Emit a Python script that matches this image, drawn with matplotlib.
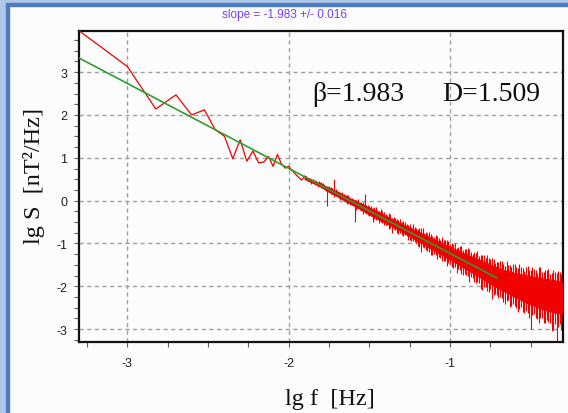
import numpy as np
import matplotlib
matplotlib.use("Agg")
import matplotlib.pyplot as plt
from matplotlib.patches import Rectangle

# ----------------------------
# Data
# ----------------------------
# low-frequency part, single spectral lines
lgf_low = [-3.301, -3.000, -2.824, -2.699, -2.602, -2.523, -2.456, -2.398,
           -2.347, -2.301, -2.260, -2.222, -2.187, -2.155, -2.125, -2.097,
           -2.070, -2.046, -2.022, -2.000, -1.979, -1.959, -1.939, -1.921]
lgS_low = [3.97, 3.13, 2.14, 2.47, 2.00, 2.12, 1.66, 1.50,
           0.98, 1.42, 0.92, 1.16, 0.88, 0.90, 1.03, 0.80,
           1.08, 0.86, 0.76, 0.80, 0.70, 0.62, 0.55, 0.48]

# dense part: core of the noisy band (upper / lower edge)
lgf_band = [-1.90, -1.88, -1.86, -1.84, -1.82, -1.80, -1.78, -1.76, -1.74, -1.72,
            -1.70, -1.68, -1.66, -1.64, -1.62, -1.60, -1.58, -1.56, -1.54, -1.52,
            -1.50, -1.48, -1.46, -1.44, -1.42, -1.40, -1.38, -1.36, -1.34, -1.32,
            -1.30, -1.28, -1.26, -1.24, -1.22, -1.20, -1.18, -1.16, -1.14, -1.12,
            -1.10, -1.08, -1.06, -1.04, -1.02, -1.00, -0.98, -0.96, -0.94, -0.92,
            -0.90, -0.88, -0.86, -0.84, -0.82, -0.80, -0.78, -0.76, -0.74, -0.72,
            -0.70, -0.68, -0.66, -0.64, -0.62, -0.60, -0.58, -0.56, -0.54, -0.52,
            -0.50, -0.48, -0.46, -0.44, -0.42, -0.40, -0.38, -0.36, -0.34, -0.32,
            -0.30]
lgS_hi = [0.57, 0.52, 0.49, 0.45, 0.42, 0.40, 0.35, 0.31, 0.28, 0.24,
          0.21, 0.17, 0.13, 0.09, 0.05, 0.01, -0.02, -0.06, -0.09, -0.13,
          -0.17, -0.20, -0.24, -0.27, -0.31, -0.36, -0.40, -0.43, -0.47, -0.51,
          -0.54, -0.58, -0.62, -0.65, -0.69, -0.72, -0.76, -0.80, -0.83, -0.87,
          -0.90, -0.94, -0.98, -1.01, -1.05, -1.08, -1.12, -1.16, -1.19, -1.23,
          -1.25, -1.29, -1.32, -1.35, -1.38, -1.42, -1.45, -1.48, -1.51, -1.55,
          -1.58, -1.61, -1.63, -1.66, -1.67, -1.70, -1.71, -1.73, -1.74, -1.76,
          -1.77, -1.79, -1.80, -1.81, -1.83, -1.84, -1.85, -1.86, -1.88, -1.89,
          -1.90]
lgS_lo = [0.51, 0.46, 0.43, 0.39, 0.36, 0.32, 0.27, 0.22, 0.18, 0.14,
          0.10, 0.06, 0.01, -0.03, -0.07, -0.11, -0.16, -0.19, -0.24, -0.28,
          -0.32, -0.37, -0.40, -0.45, -0.49, -0.52, -0.56, -0.60, -0.64, -0.68,
          -0.73, -0.77, -0.81, -0.86, -0.90, -0.95, -0.99, -1.03, -1.08, -1.12,
          -1.16, -1.21, -1.25, -1.29, -1.34, -1.38, -1.42, -1.47, -1.51, -1.56,
          -1.60, -1.65, -1.69, -1.74, -1.78, -1.83, -1.87, -1.92, -1.96, -2.01,
          -2.05, -2.09, -2.13, -2.17, -2.21, -2.25, -2.29, -2.32, -2.36, -2.40,
          -2.43, -2.46, -2.49, -2.52, -2.55, -2.57, -2.59, -2.61, -2.63, -2.64,
          -2.65]

# spikes poking out of the core, two per band sample (how far above / below)
spike_up_a = [0.00, 0.02, 0.00, 0.03, 0.00, 0.04, 0.00, 0.02, 0.05, 0.27,
              0.02, 0.00, 0.03, 0.05, 0.00, 0.02, 0.04, 0.00, 0.06, 0.03,
              0.05, 0.02, 0.08, 0.03, 0.06, 0.04, 0.10, 0.03, 0.07, 0.05,
              0.04, 0.09, 0.06, 0.03, 0.08, 0.05, 0.11, 0.04, 0.07, 0.10,
              0.06, 0.12, 0.05, 0.09, 0.14, 0.07, 0.10, 0.06, 0.13, 0.08,
              0.11, 0.15, 0.07, 0.12, 0.09, 0.16, 0.10, 0.13, 0.18, 0.09,
              0.14, 0.20, 0.11, 0.16, 0.12, 0.22, 0.14, 0.18, 0.10, 0.24,
              0.15, 0.19, 0.12, 0.26, 0.17, 0.21, 0.13, 0.25, 0.18, 0.22,
              0.16]
spike_dn_a = [0.02, 0.00, 0.03, 0.00, 0.04, 0.02, 0.00, 0.34, 0.03, 0.05,
              0.00, 0.04, 0.02, 0.06, 0.03, 0.00, 0.05, 0.02, 0.07, 0.04,
              0.03, 0.13, 0.05, 0.08, 0.04, 0.06, 0.10, 0.15, 0.05, 0.09,
              0.07, 0.04, 0.11, 0.08, 0.06, 0.12, 0.20, 0.07, 0.10, 0.14,
              0.09, 0.16, 0.08, 0.12, 0.18, 0.10, 0.15, 0.22, 0.11, 0.17,
              0.13, 0.24, 0.12, 0.19, 0.15, 0.26, 0.14, 0.21, 0.33, 0.16,
              0.22, 0.18, 0.28, 0.15, 0.24, 0.20, 0.30, 0.17, 0.26, 0.22,
              0.57, 0.19, 0.28, 0.23, 0.31, 0.21, 0.27, 0.42, 0.64, 0.25,
              0.30]
spike_up_b = [0.01, 0.00, 0.02, 0.00, 0.03, 0.01, 0.00, 0.03, 0.02, 0.04,
              0.00, 0.03, 0.01, 0.04, 0.02, 0.00, 0.05, 0.03, 0.25, 0.02,
              0.04, 0.06, 0.03, 0.07, 0.05, 0.03, 0.08, 0.05, 0.04, 0.09,
              0.06, 0.04, 0.08, 0.10, 0.05, 0.07, 0.12, 0.06, 0.09, 0.05,
              0.10, 0.07, 0.13, 0.08, 0.11, 0.09, 0.14, 0.08, 0.12, 0.10,
              0.15, 0.09, 0.13, 0.17, 0.10, 0.14, 0.19, 0.11, 0.15, 0.12,
              0.18, 0.13, 0.21, 0.15, 0.19, 0.14, 0.23, 0.16, 0.20, 0.13,
              0.22, 0.17, 0.25, 0.14, 0.20, 0.24, 0.16, 0.19, 0.23, 0.18,
              0.15]
spike_dn_b = [0.00, 0.02, 0.01, 0.03, 0.00, 0.02, 0.04, 0.01, 0.03, 0.02,
              0.04, 0.01, 0.05, 0.02, 0.03, 0.40, 0.02, 0.06, 0.03, 0.05,
              0.04, 0.07, 0.03, 0.06, 0.09, 0.05, 0.08, 0.06, 0.11, 0.07,
              0.09, 0.06, 0.12, 0.08, 0.10, 0.14, 0.09, 0.13, 0.11, 0.16,
              0.12, 0.10, 0.15, 0.13, 0.11, 0.18, 0.14, 0.12, 0.20, 0.15,
              0.17, 0.13, 0.21, 0.16, 0.28, 0.18, 0.23, 0.15, 0.25, 0.20,
              0.19, 0.27, 0.22, 0.31, 0.20, 0.25, 0.23, 0.29, 0.21, 0.34,
              0.24, 0.28, 0.36, 0.22, 0.30, 0.26, 0.45, 0.27, 0.32, 0.38,
              0.24]

# linear fit
fit_slope = -1.983
fit_intercept = -3.214
fit_range = [-3.3, -0.71]

title_text = "slope = -1.983 +/- 0.016"
beta_text = "\u03b2=1.983"
dim_text = "D=1.509"

# ----------------------------
# Plot
# ----------------------------
W, H = 568.0, 414.0
fig = plt.figure(figsize=(W / 100, H / 100), dpi=100, facecolor="#fcfcfc")

# window frame (left and top strips)
fig.patches.append(Rectangle((0, 0), 6 / W, 1, transform=fig.transFigure,
                             color="#b2c8ea", zorder=0))
fig.patches.append(Rectangle((6 / W, 0), 3 / W, 1 - 4 / H, transform=fig.transFigure,
                             color="#4c7dc2", zorder=0))
fig.patches.append(Rectangle((0, 1 - 4 / H), 1, 4 / H, transform=fig.transFigure,
                             color="#b2c8ea", zorder=0))
fig.patches.append(Rectangle((6 / W, 1 - 7 / H), 1, 3 / H, transform=fig.transFigure,
                             color="#4c7dc2", zorder=0))

ax = fig.add_axes([79 / W, 1 - 343 / H, 484 / W, 311 / H])
ax.set_facecolor("#fcfcfc")

red = "#f00000"
bx = np.array(lgf_band)
hi = np.array(lgS_hi)
lo = np.array(lgS_lo)

ax.plot(lgf_low + [lgf_band[0]], lgS_low + [lgS_hi[0]], color=red, lw=0.9, zorder=3)
ax.fill_between(bx, lo, hi, color=red, lw=0, zorder=3)
ax.plot(bx, hi, color=red, lw=0.8, zorder=3)
ax.plot(bx, lo, color=red, lw=0.8, zorder=3)
ax.vlines(bx, lo - np.array(spike_dn_a), hi + np.array(spike_up_a),
          color=red, lw=0.8, zorder=3)
ax.vlines(bx + 0.01, lo - np.array(spike_dn_b), hi + np.array(spike_up_b),
          color=red, lw=0.8, zorder=3)

fit_x = np.array(fit_range)
ax.plot(fit_x, fit_intercept + fit_slope * fit_x, color="#2e9e2e", lw=1.2, zorder=4)

ax.set_xlim(-3.3, -0.3)
ax.set_ylim(-3.3, 3.96)
ax.set_xticks([-3, -2, -1])
ax.set_yticks([-3, -2, -1, 0, 1, 2, 3])
ax.set_xticks(np.arange(-3.25, -0.3, 0.25), minor=True)
ax.set_yticks(np.arange(-3.25, 3.9, 0.25), minor=True)
ax.set_xticklabels(["-3", "-2", "-1"])
ax.set_yticklabels(["-3", "-2", "-1", "0", "1", "2", "3"])

ax.tick_params(which="both", direction="out", length=3.5, width=0.8,
               color="#606060", labelsize=9, labelcolor="#202020")
ax.tick_params(axis="x", pad=7)
ax.tick_params(axis="y", pad=5)
for lab in ax.get_xticklabels() + ax.get_yticklabels():
    lab.set_family("Liberation Sans")

ax.grid(True, which="major", color="#a0a0a0", lw=1.0, linestyle=(0, (3, 2.5)))
for s in ax.spines.values():
    s.set_linewidth(1.6)
    s.set_color("#111111")

serif = ["Liberation Serif", "DejaVu Serif"]
ax.text(0.481, 0.80, beta_text, transform=ax.transAxes, fontsize=20,
        family=serif, ha="left", va="center", color="#111111")
ax.text(0.75, 0.80, dim_text, transform=ax.transAxes, fontsize=20,
        family=serif, ha="left", va="center", color="#111111")

fig.text(0.5, 1 - 15 / H, title_text, ha="center", va="center",
         fontsize=8.5, color="#7b3ff2", family="Liberation Sans")
fig.text(330 / W, 1 - 400 / H, "lg f  [Hz]", ha="center", va="center",
         fontsize=17.5, family=serif, color="#111111")
fig.text(34 / W, 1 - 176 / H, "lg S  [nT\u00b2/Hz]", ha="center", va="center",
         rotation=90, fontsize=17.5, family=serif, color="#111111")

fig.savefig("out.png", dpi=100, facecolor=fig.get_facecolor())
